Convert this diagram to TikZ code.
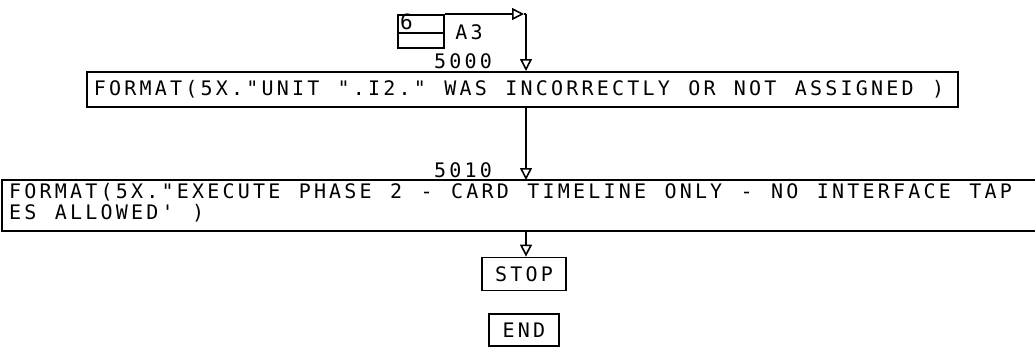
\documentclass[tikz,border=0pt]{standalone}
\usepackage{fontspec}
\newfontfamily\plotfont[LetterSpace=16,Ligatures=TeXOff]{DejaVu Sans Mono}
\usetikzlibrary{arrows.meta,calc}
\newcommand\nbs{\char"00A0\relax}
\begin{document}
\begin{tikzpicture}[x=1pt,y=-1pt,
  every node/.style={font=\plotfont\fontsize{20}{21}\selectfont, inner sep=0pt},
  box/.style={draw, line width=1.8pt, rectangle},
  ln/.style={line width=1.8pt},
  arr/.style={line width=1.8pt, -{Triangle[open,length=12pt,width=12pt,line width=1.6pt]}}
]
\useasboundingbox (0,0) rectangle (1035,362);
% small connector box
\node[box, anchor=north west, minimum width=46pt, minimum height=18pt] (sb1) at (397,14) {};
\node[box, anchor=north west, minimum width=46pt, minimum height=15pt] (sb2) at (397,32) {};
\node[anchor=west, font=\plotfont\fontsize{21}{21}\selectfont] (six) at (400,22) {6};
\node (a3) at (469,32) {A3};
\coordinate (c1) at (524,14);
\coordinate (c2) at (526,14);
% box 1
\node[box, anchor=north west, minimum width=871pt, minimum height=35pt, text width=857pt, align=left, inner xsep=7pt] (b1) at (86,71) {FORMAT(5X."UNIT\nbs".I2."\nbs WAS\nbs INCORRECTLY\nbs OR\nbs NOT\nbs ASSIGNED\nbs)};
\node[anchor=south] (l5000) at (463,69) {5000};
% box 2 (open to the right)
\coordinate (b2nw) at (2,180);
\coordinate (b2sw) at (2,231);
\coordinate (b2ne) at (1040,180);
\coordinate (b2se) at (1040,231);
\node[anchor=north west, align=left, text width=1030pt] (b2) at (9,183.5) {FORMAT(5X."EXECUTE\nbs PHASE\nbs 2\nbs -\nbs CARD\nbs TIMELINE\nbs ONLY\nbs -\nbs NO\nbs INTERFACE\nbs TAP\\ES\nbs ALLOWED'\nbs)};
\coordinate (b2top) at (526,180);
\coordinate (b2bot) at (526,231);
\node[anchor=south] (l5010) at (463,178) {5010};
\draw[ln] (b2ne) -- (b2nw) -- (b2sw) -- (b2se);
% stop / end
\node[box, minimum width=84pt, minimum height=33pt] (stop) at (524,274) {STOP};
\node[box, minimum width=70pt, minimum height=32pt] (end) at (524,330) {END};
% connectors
\draw[arr] (sb1.north east) -- (c1);
\draw[ln] (c1) -- (c2);
\draw[arr] (c2) -- (c2 |- b1.north);
\draw[arr] (b1.south -| c2) -- (b2top);
\draw[arr] (b2bot) -- (b2bot |- stop.north);
\end{tikzpicture}
\end{document}
